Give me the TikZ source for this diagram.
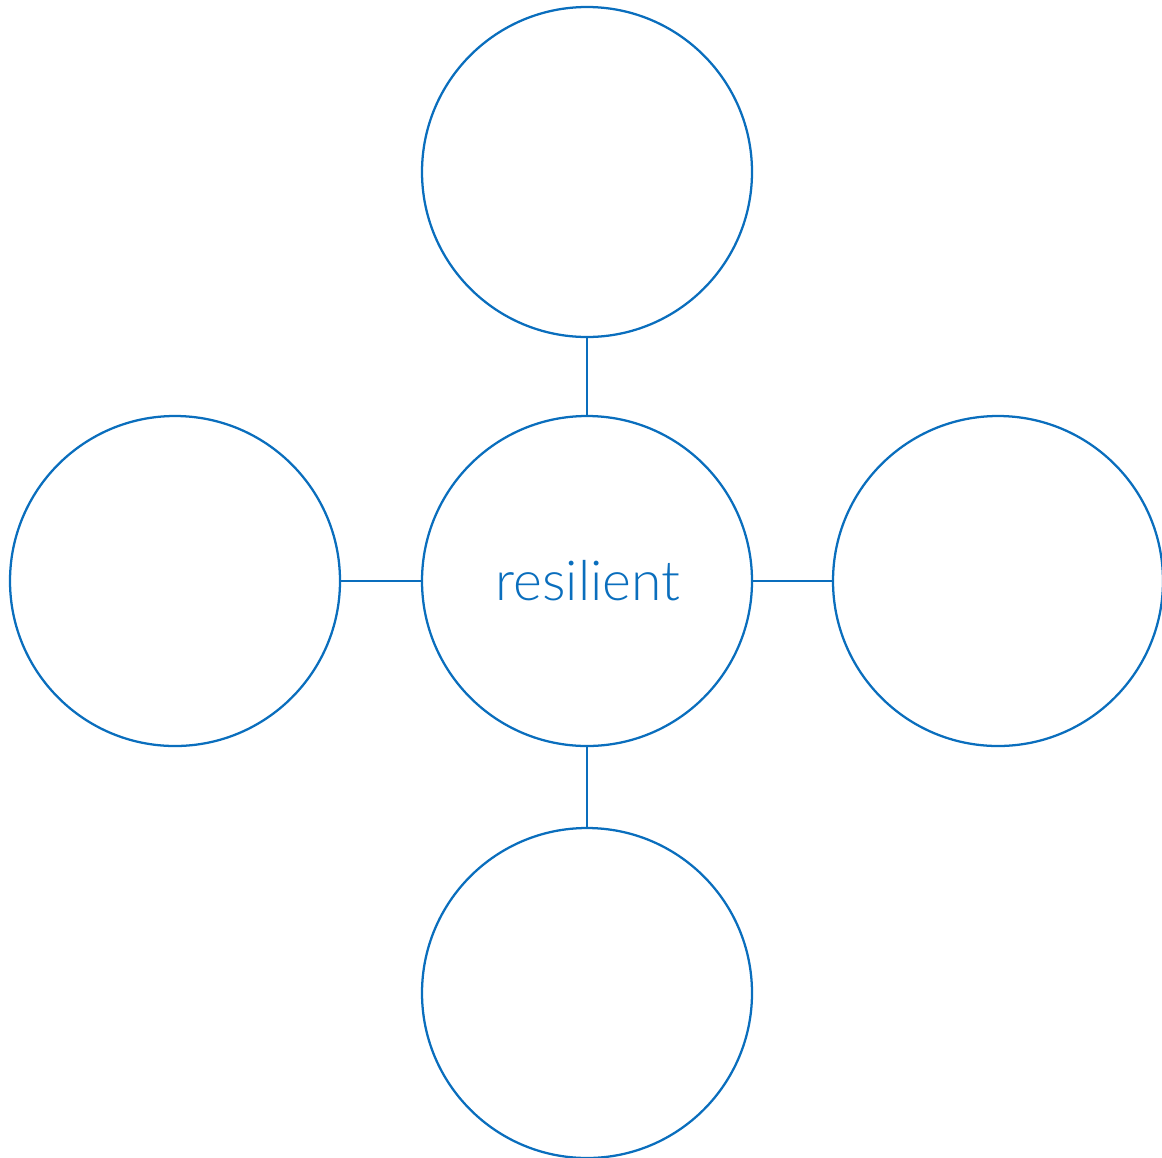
\documentclass[tikz,border=0pt]{standalone}
\usepackage{fontspec}
\newfontfamily\latol{Lato Light}
\definecolor{rblue}{HTML}{0A6EBD}
\begin{document}
\begin{tikzpicture}[x=0.75pt,y=-0.75pt,
  bubble/.style={circle,draw=rblue,line width=1.7pt,minimum size=330*0.75pt,inner sep=0pt},
  link/.style={draw=rblue,line width=1.7pt}]
\useasboundingbox (0,0) rectangle (1162,1157);
\node[bubble] (c) at (587,581) {};
\node[font=\latol\fontsize{41.4}{46}\selectfont,text=rblue,anchor=base] (lab) at (588,600) {resilient};
\node[bubble] (t) at (587,172) {};
\node[bubble] (b) at (587,993) {};
\node[bubble] (l) at (175,581) {};
\node[bubble] (r) at (998,581) {};
\draw[link] (c) -- (t);
\draw[link] (c) -- (b);
\draw[link] (c) -- (l);
\draw[link] (c) -- (r);
\end{tikzpicture}
\end{document}
